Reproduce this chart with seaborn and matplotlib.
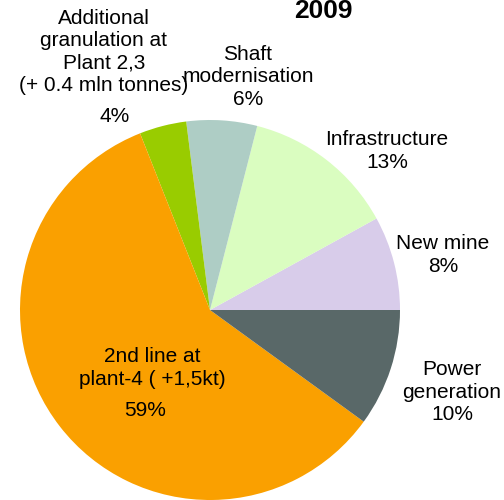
import matplotlib
matplotlib.use("Agg")
import matplotlib.pyplot as plt
import seaborn as sns

# data, counter-clockwise from 3 o'clock
names = ["New mine", "Infrastructure", "Shaft\nmodernisation",
         "Additional\ngranulation at\nPlant 2,3\n(+ 0.4 mln tonnes)",
         "2nd line at\nplant-4 ( +1,5kt)", "Power\ngeneration"]
shares = [8, 13, 6, 4, 59, 10]
year = "2009"

colors = sns.color_palette(["#D8CCEA", "#DAFDC0", "#AECDC5", "#99CC00",
                            "#FAA000", "#596868"])

# label block centres (pixels in the 504x500 picture);
# pct_px is set where the percent sits apart from the name
name_px = [(443, 255), (387, 151), (248, 77), (104, 52), (152, 368), (452, 392)]
pct_px = [None, None, None, (115, 117), (145, 410), None]

sns.set_theme(style="white")
plt.rcParams["font.family"] = ["Liberation Sans", "DejaVu Sans"]
plt.rcParams["text.color"] = "black"

FS = 15
LS = 1.24

fig = plt.figure(figsize=(5.04, 5.0), dpi=100)
ax = fig.add_axes([20 / 504, 0, 380 / 504, 380 / 500])
ax.pie(shares, colors=colors, startangle=0, counterclock=True,
       wedgeprops=dict(linewidth=0))
ax.set_xlim(-1, 1)
ax.set_ylim(-1, 1)
ax.set_aspect("equal")
ax.axis("off")


def to_fig(p):
    return p[0] / 504, 1 - p[1] / 500


for name, share, npos, ppos in zip(names, shares, name_px, pct_px):
    if ppos is not None:
        fx, fy = to_fig(npos)
        fig.text(fx, fy, name, ha="center", va="center", fontsize=FS,
                 linespacing=LS)
        fx, fy = to_fig(ppos)
        fig.text(fx, fy, f"{share}%", ha="center", va="center", fontsize=FS)
    else:
        fx, fy = to_fig(npos)
        fig.text(fx, fy, f"{name}\n{share}%", ha="center", va="center",
                 fontsize=FS, linespacing=LS)

fig.text(323 / 504, 1 - 18 / 500, year, ha="center", va="baseline",
         fontsize=19, fontweight="bold")

fig.savefig("out.png", dpi=100)
